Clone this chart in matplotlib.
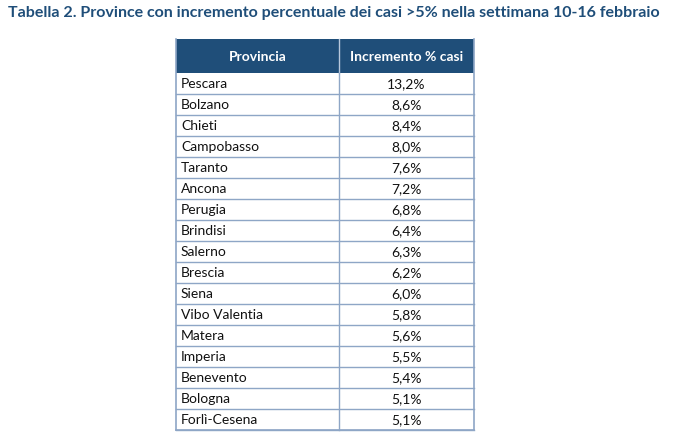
import matplotlib
matplotlib.use("Agg")
import matplotlib.pyplot as plt
from matplotlib.patches import Rectangle

title = "Tabella 2. Province con incremento percentuale dei casi >5% nella settimana 10-16 febbraio"
headers = ["Provincia", "Incremento % casi"]
province = ["Pescara", "Bolzano", "Chieti", "Campobasso", "Taranto", "Ancona",
            "Perugia", "Brindisi", "Salerno", "Brescia", "Siena", "Vibo Valentia",
            "Matera", "Imperia", "Benevento", "Bologna", "Forlì-Cesena"]
incremento = ["13,2%", "8,6%", "8,4%", "8,0%", "7,6%", "7,2%", "6,8%", "6,4%",
              "6,3%", "6,2%", "6,0%", "5,8%", "5,6%", "5,5%", "5,4%", "5,1%", "5,1%"]

W, H = 680, 444
fig = plt.figure(figsize=(W / 100, H / 100), dpi=100)
ax = fig.add_axes([0, 0, 1, 1])
ax.set_xlim(0, W)
ax.set_ylim(H, 0)
ax.axis("off")

font = ["Lato", "DejaVu Sans"]
navy = "#1F4E79"
line_c = "#8EA6C6"

x0, x1, x2 = 176, 339, 474
hy0, hy1 = 39.5, 73
rh = 21

ax.text(8, 12.5, title, fontsize=11.55, fontweight="bold", color=navy,
        family=font, ha="left", va="center")

# header
ax.add_patch(Rectangle((x0, hy0), x2 - x0, hy1 - hy0, facecolor=navy,
                       edgecolor="none"))
ax.plot([x1, x1], [hy0, hy1], color="#B8C8DC", lw=1)
ax.text((x0 + x1) / 2, (hy0 + hy1) / 2 + 1, headers[0], fontsize=10, fontweight="bold",
        color="white", family=font, ha="center", va="center")
ax.text((x1 + x2) / 2, (hy0 + hy1) / 2 + 1, headers[1], fontsize=10, fontweight="bold",
        color="white", family=font, ha="center", va="center")

n = len(province)
bottom = hy1 + n * rh
for i, (p, v) in enumerate(zip(province, incremento)):
    yt = hy1 + i * rh
    yc = yt + rh / 2 + 0.5
    ax.text(x0 + 5, yc, p, fontsize=10, color="#111111", family=font,
            ha="left", va="center")
    ax.text((x1 + x2) / 2, yc, v, fontsize=10, color="#111111", family=font,
            ha="center", va="center")
    ax.plot([x0, x2], [yt + rh, yt + rh], color=line_c, lw=1)

ax.plot([x0, x0], [hy0, bottom], color=line_c, lw=1.2)
ax.plot([x2, x2], [hy0, bottom], color=line_c, lw=1.2)
ax.plot([x1, x1], [hy1, bottom], color=line_c, lw=1)
ax.plot([x0, x2], [bottom, bottom], color=line_c, lw=1.2)

fig.savefig("out.png", dpi=100)
